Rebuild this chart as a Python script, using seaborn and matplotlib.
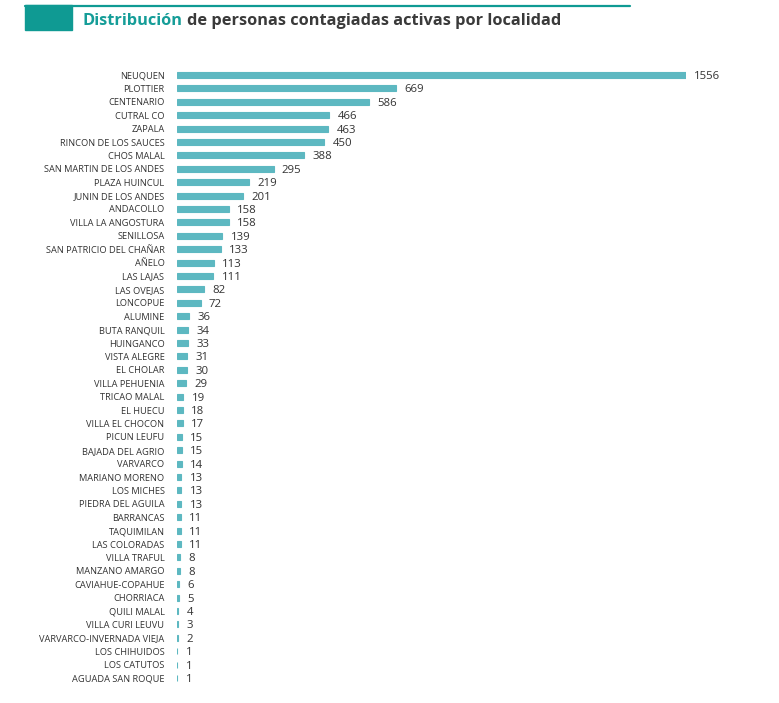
import matplotlib
matplotlib.use("Agg")
import matplotlib.pyplot as plt
import seaborn as sns
import pandas as pd
from matplotlib.patches import Rectangle
from matplotlib.lines import Line2D

localidades = ["NEUQUEN", "PLOTTIER", "CENTENARIO", "CUTRAL CO", "ZAPALA", "RINCON DE LOS SAUCES",
               "CHOS MALAL", "SAN MARTIN DE LOS ANDES", "PLAZA HUINCUL", "JUNIN DE LOS ANDES",
               "ANDACOLLO", "VILLA LA ANGOSTURA", "SENILLOSA", "SAN PATRICIO DEL CHAÑAR", "AÑELO",
               "LAS LAJAS", "LAS OVEJAS", "LONCOPUE", "ALUMINE", "BUTA RANQUIL", "HUINGANCO",
               "VISTA ALEGRE", "EL CHOLAR", "VILLA PEHUENIA", "TRICAO MALAL", "EL HUECU",
               "VILLA EL CHOCON", "PICUN LEUFU", "BAJADA DEL AGRIO", "VARVARCO", "MARIANO MORENO",
               "LOS MICHES", "PIEDRA DEL AGUILA", "BARRANCAS", "TAQUIMILAN", "LAS COLORADAS",
               "VILLA TRAFUL", "MANZANO AMARGO", "CAVIAHUE-COPAHUE", "CHORRIACA", "QUILI MALAL",
               "VILLA CURI LEUVU", "VARVARCO-INVERNADA VIEJA", "LOS CHIHUIDOS", "LOS CATUTOS",
               "AGUADA SAN ROQUE"]
activos = [1556, 669, 586, 466, 463, 450, 388, 295, 219, 201, 158, 158, 139, 133, 113, 111, 82, 72,
           36, 34, 33, 31, 30, 29, 19, 18, 17, 15, 15, 14, 13, 13, 13, 11, 11, 11, 8, 8, 6, 5, 4,
           3, 2, 1, 1, 1]

df = pd.DataFrame({"localidad": localidades, "activos": activos})

sns.set_theme(style="white")
plt.rcParams['font.family'] = ['Open Sans', 'DejaVu Sans']

W, H = 779, 703
fig = plt.figure(figsize=(W / 100, H / 100), dpi=100)
fig.patch.set_facecolor("white")

row = 13.4
top_px = 75 - row / 2
bot_px = 678 + row / 2
ax = fig.add_axes([177 / W, 1 - bot_px / H, (686 - 177) / W, (bot_px - top_px) / H])

sns.barplot(data=df, y="localidad", x="activos", orient="h", color="#5db8c1",
            width=0.44, ax=ax, saturation=1, edgecolor="#5db8c1", linewidth=0.8)
ax.set_xlim(0, 1556)
ax.set_ylim(len(localidades) - 0.5, -0.5)
ax.set_xlabel("")
ax.set_ylabel("")
ax.set_xticks([])
for s in ax.spines.values():
    s.set_visible(False)
ax.tick_params(axis="y", length=0, pad=9, labelsize=6.7, labelcolor="#333333")
for c in ax.containers:
    lbls = ax.bar_label(c, padding=6, fontsize=8.2, color="#333333")
    for t in lbls:
        t.set_clip_on(False)
        t.set_verticalalignment("center_baseline")

# header decoration
fig.patches.append(Rectangle((25 / W, 1 - 30 / H), 47 / W, 25 / H, transform=fig.transFigure,
                             color="#0f9a93", zorder=0))
fig.lines.append(Line2D([25 / W, 630 / W], [1 - 6 / H, 1 - 6 / H], transform=fig.transFigure,
                        color="#0f9a93", linewidth=1.6))

t1 = fig.text(83 / W, 1 - 21 / H, "Distribución", fontsize=11.8, fontweight="bold",
              color="#159d98", va="center", ha="left")
fig.canvas.draw()
bb = t1.get_window_extent()
fig.text((bb.x1 + 4) / W, 1 - 21 / H, "de personas contagiadas activas por localidad",
         fontsize=11.8, fontweight="bold", color="#3a3a3a", va="center", ha="left")

fig.savefig("out.png", dpi=100)
